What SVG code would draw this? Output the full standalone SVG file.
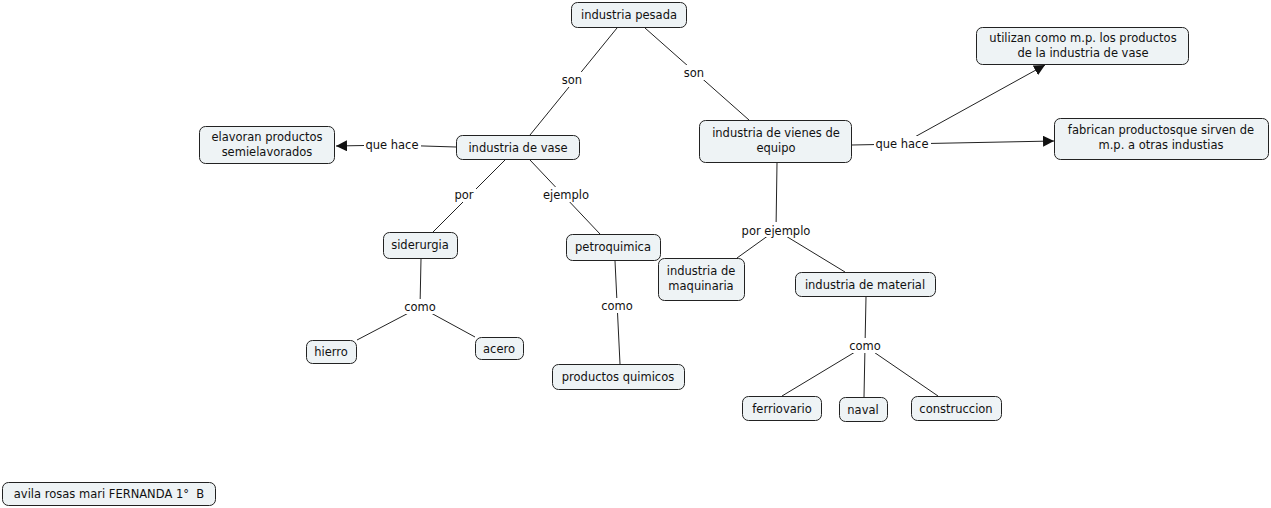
<svg xmlns="http://www.w3.org/2000/svg" width="1271" height="508" viewBox="0 0 1271 508">
<style>
.n rect{fill:#eef3f5;stroke:#222;stroke-width:1}
text{font-family:"DejaVu Sans",Verdana,sans-serif;font-size:11.5px;fill:#111;text-anchor:middle}
.c line{stroke:#222;stroke-width:1}
.lb rect{fill:#fff}
</style>
<defs>
<marker id="ah" viewBox="0 0 10 10" refX="10" refY="5" markerWidth="11" markerHeight="11" markerUnits="userSpaceOnUse" orient="auto">
<path d="M0,0 L10,5 L0,10 z" fill="#111"/>
</marker>
</defs>
<rect width="1271" height="508" fill="#fff"/>
<g class="c" id="connectors">
<line x1="617" y1="28" x2="530" y2="135"/>
<line x1="645" y1="28" x2="749" y2="120"/>
<line x1="456" y1="147" x2="392" y2="145"/>
<line x1="392" y1="145" x2="336" y2="146" marker-end="url(#ah)"/>
<line x1="505" y1="160" x2="433" y2="232"/>
<line x1="530" y1="160" x2="600" y2="234"/>
<line x1="852" y1="145" x2="902" y2="144"/>
<line x1="902" y1="144" x2="1045" y2="65" marker-end="url(#ah)"/>
<line x1="902" y1="144" x2="1054" y2="141" marker-end="url(#ah)"/>
<line x1="777" y1="163" x2="776" y2="230"/>
<line x1="776" y1="230" x2="737" y2="258"/>
<line x1="776" y1="230" x2="845" y2="272"/>
<line x1="421" y1="259" x2="420" y2="307"/>
<line x1="420" y1="307" x2="357" y2="340"/>
<line x1="420" y1="307" x2="475" y2="337"/>
<line x1="615" y1="261" x2="620" y2="364"/>
<line x1="866" y1="297" x2="865" y2="346"/>
<line x1="865" y1="346" x2="782" y2="396"/>
<line x1="865" y1="346" x2="864" y2="397"/>
<line x1="865" y1="346" x2="938" y2="396"/>
</g>
<g class="lb" id="labels">
<rect x="560" y="72" width="25" height="15"/><text x="572" y="84">son</text>
<rect x="682" y="65" width="25" height="15"/><text x="694" y="77">son</text>
<rect x="364" y="137" width="57" height="15"/><text x="392" y="149">que hace</text>
<rect x="453" y="187" width="23" height="15"/><text x="464" y="199">por</text>
<rect x="540" y="187" width="52" height="15"/><text x="566" y="199">ejemplo</text>
<rect x="874" y="136" width="57" height="15"/><text x="902" y="148">que hace</text>
<rect x="738" y="222" width="76" height="15"/><text x="776" y="235">por ejemplo</text>
<rect x="403" y="299" width="34" height="15"/><text x="420" y="311">como</text>
<rect x="600" y="298" width="34" height="15"/><text x="617" y="310">como</text>
<rect x="848" y="338" width="34" height="15"/><text x="865" y="350">como</text>
</g>
<g class="n" id="n-pesada"><rect x="571.5" y="2.5" width="115" height="25" rx="6"/><text x="629" y="19">industria pesada</text></g>
<g class="n" id="n-vase"><rect x="456.5" y="135.5" width="123" height="24" rx="6"/><text x="518" y="152">industria de vase</text></g>
<g class="n" id="n-elavoran"><rect x="199.5" y="126.5" width="135" height="37" rx="6"/><text x="267" y="141">elavoran productos</text><text x="267" y="156">semielavorados</text></g>
<g class="n" id="n-viene"><rect x="699.5" y="120.5" width="152" height="42" rx="6"/><text x="776" y="137">industria de vienes de</text><text x="776" y="152">equipo</text></g>
<g class="n" id="n-utilizan"><rect x="976.5" y="27.5" width="212" height="37" rx="6"/><text x="1083" y="42">utilizan como m.p. los productos</text><text x="1083" y="57">de la industria de vase</text></g>
<g class="n" id="n-fabrican"><rect x="1054.5" y="118.5" width="214" height="41" rx="6"/><text x="1161" y="134">fabrican productosque sirven de</text><text x="1161" y="149">m.p. a otras industias</text></g>
<g class="n" id="n-siderurgia"><rect x="383.5" y="232.5" width="74" height="26" rx="6"/><text x="420" y="249">siderurgia</text></g>
<g class="n" id="n-petroquimica"><rect x="566.5" y="234.5" width="94" height="26" rx="6"/><text x="613" y="251">petroquimica</text></g>
<g class="n" id="n-maquinaria"><rect x="658.5" y="258.5" width="86" height="42" rx="6"/><text x="701" y="275">industria de</text><text x="701" y="290">maquinaria</text></g>
<g class="n" id="n-material"><rect x="795.5" y="272.5" width="140" height="24" rx="6"/><text x="865" y="289">industria de material</text></g>
<g class="n" id="n-hierro"><rect x="306.5" y="340.5" width="50" height="23" rx="6"/><text x="331" y="356">hierro</text></g>
<g class="n" id="n-acero"><rect x="475.5" y="337.5" width="48" height="22" rx="6"/><text x="499" y="353">acero</text></g>
<g class="n" id="n-quimicos"><rect x="552.5" y="364.5" width="132" height="25" rx="6"/><text x="618" y="381">productos quimicos</text></g>
<g class="n" id="n-ferriovario"><rect x="742.5" y="396.5" width="79" height="24" rx="6"/><text x="782" y="413">ferriovario</text></g>
<g class="n" id="n-naval"><rect x="839.5" y="397.5" width="48" height="24" rx="6"/><text x="863" y="414">naval</text></g>
<g class="n" id="n-construccion"><rect x="911.5" y="396.5" width="90" height="24" rx="6"/><text x="956" y="413">construccion</text></g>
<g class="n" id="n-avila"><rect x="2.5" y="482.5" width="213" height="23" rx="6"/><text x="109" y="498" style="white-space:pre">avila rosas mari FERNANDA 1°  B</text></g>
</svg>
